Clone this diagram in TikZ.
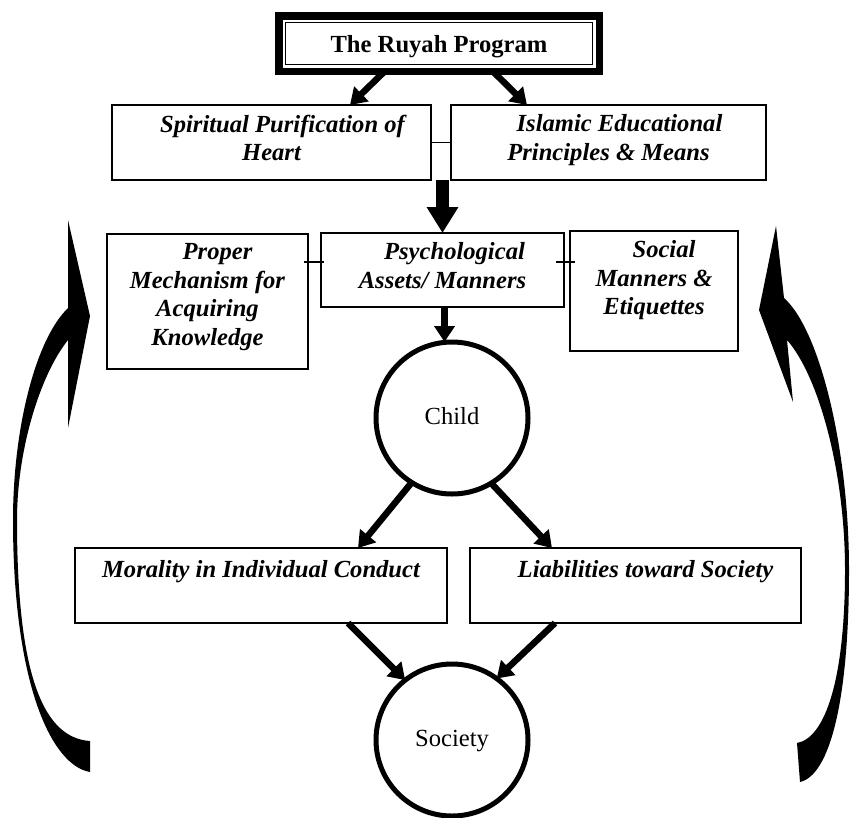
\documentclass[tikz,border=0pt]{standalone}
\usepackage{fontspec}
\setmainfont{Liberation Serif}
\usetikzlibrary{arrows.meta,calc}
\begin{document}
\begin{tikzpicture}[x=1pt,y=-1pt,
  box/.style={draw, line width=1.3pt, rectangle, inner sep=0pt, outer sep=0pt},
  boxtext/.style={anchor=north, inner sep=0pt, align=center,
    font=\bfseries\itshape\fontsize{24.6}{28.5}\selectfont, execute at begin node=\strut},
  ring/.style={draw, circle, line width=5pt, minimum size=152pt, inner sep=0pt, outer sep=0pt,
    font=\fontsize{24.6}{28.5}\selectfont, text height=17pt, text depth=5pt},
  link/.style={line width=6.5pt, -{Triangle[length=16pt,width=20pt]}},
  bigarrow/.style={line width=12.5pt, -{Triangle[length=26pt,width=30pt]}},
  tick/.style={line width=1.2pt},
  sweep/.style={fill=black}
]
\useasboundingbox (0,0) rectangle (850,817);

% title with thick-thin frame
\node[draw, line width=7.5pt, minimum width=320.5pt, minimum height=55.5pt, inner sep=0pt, outer sep=0pt,
  font=\bfseries\fontsize{24.6}{28.5}\selectfont, text height=17pt, text depth=0pt]
  (title) at (439,43.5) {The Ruyah Program};
\draw[line width=1.2pt] ($(title.north west)+(6.5,6.5)$) rectangle ($(title.south east)+(-6.5,-6.5)$);

% boxes
\node[box, minimum width=319pt, minimum height=75pt] (spiritual) at (271.5,142.5) {};
\node[box, minimum width=315pt, minimum height=75pt] (islamic) at (608.5,142.5) {};
\node[box, minimum width=201pt, minimum height=135pt] (proper) at (207.5,301.5) {};
\node[box, minimum width=243pt, minimum height=74pt] (psych) at (442.5,270) {};
\node[box, minimum width=168pt, minimum height=120pt] (social) at (654,291) {};
\node[box, minimum width=372pt, minimum height=75pt] (moral) at (261,585.5) {};
\node[box, minimum width=331pt, minimum height=75pt] (lia) at (635.5,585.5) {};

% box captions
\node[boxtext] (spiritual-t) at ($(spiritual.north)+(0,9.55)$) {\hspace*{22pt}Spiritual Purification of\\Heart};
\node[boxtext] (islamic-t) at ($(islamic.north)+(0,9.55)$) {\hspace*{22pt}Islamic Educational\\Principles \& Means};
\node[boxtext] (proper-t) at ($(proper.north)+(0,9.55)$) {\hspace*{20pt}Proper\\Mechanism for\\Acquiring\\Knowledge};
\node[boxtext] (psych-t) at ($(psych.north)+(0,9.55)$) {\hspace*{24pt}Psychological\\Assets/ Manners};
\node[boxtext] (social-t) at ($(social.north)+(0,9.55)$) {\hspace*{20pt}Social\\Manners \&\\Etiquettes};
\node[boxtext] (moral-t) at ($(moral.north)+(0,9.55)$) {Morality in Individual Conduct};
\node[boxtext] (lia-t) at ($(lia.north)+(0,9.55)$) {\hspace*{20pt}Liabilities toward Society};

% circles
\node[ring] (child) at (452,418) {Child};
\node[ring] (society) at (452,740) {Society};

% connectors
\draw[link] ($(title.south west)+(106,0)$) -- ($(spiritual.north west)+(238,0)$);
\draw[link] ($(title.south west)+(214,0)$) -- ($(islamic.north west)+(76,0)$);
\draw[tick] (spiritual.east) -- (islamic.west);
\draw[bigarrow] (spiritual.south -| psych.north) -- (psych.north);
\draw[tick] ($(proper.east |- psych.west)+(-4,-8)$) -- ($(psych.west)+(3,-8)$);
\draw[tick] ($(psych.east)+(-8,-8)$) -- ($(psych.east -| social.west)+(5,-8)$);
\draw[link] ($(psych.south)+(2,0)$) -- ($(psych.south |- child.north)+(2,0)$);
\draw[link] (child.-122) -- ($(moral.north west)+(283,0)$);
\draw[link] (child.-59) -- ($(lia.north west)+(82,0)$);
\draw[link] ($(moral.south west)+(273,0)$) -- (society.128);
\draw[link] ($(lia.south west)+(85,0)$) -- (society.54);

% feedback sweeps on both sides
\fill[sweep] (68,220) -- (90,316) -- (68,428) -- (68,340)
  .. controls (40,375) and (17,450) .. (17,520)
  .. controls (17,680) and (45,738) .. (90,741) -- (90,772)
  .. controls (50,765) and (13,680) .. (13,520)
  .. controls (13,430) and (35,340) .. (68,308) -- cycle;
\fill[sweep] (776,226) -- (759,310) -- (793,402) -- (787,340)
  .. controls (818,375) and (845,470) .. (845,570)
  .. controls (845,680) and (825,738) .. (797,743) -- (800,782)
  .. controls (830,775) and (849,700) .. (849,570)
  .. controls (849,450) and (820,330) .. (784,298) -- cycle;
\end{tikzpicture}
\end{document}
